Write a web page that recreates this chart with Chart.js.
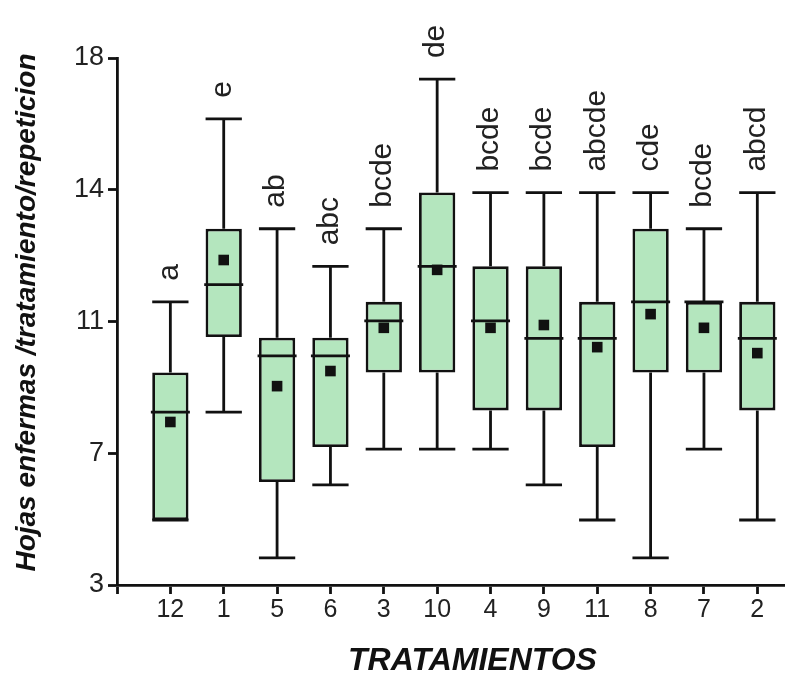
<!DOCTYPE html>
<html><head><meta charset="utf-8">
<script src="https://cdn.jsdelivr.net/npm/chart.js@4/dist/chart.umd.min.js"></script>
<style>html,body{margin:0;padding:0;background:#fff;overflow:hidden}#wrap{width:788px;height:674px}</style>
</head><body><div id="wrap"><canvas id="c" width="788" height="674"></canvas></div>
<script>
const categories = ['12','1','5','6','3','10','4','9','11','8','7','2'];
const letters    = ['a','e','ab','abc','bcde','de','bcde','bcde','abcde','cde','bcde','abcd'];
const whiskerLow  = [4.85, 7.92, 3.77, 5.85, 6.87, 6.87, 6.87, 5.85, 4.85, 3.77, 6.87, 4.85];
const q1          = [4.85, 10.06, 5.93, 6.93, 9.05, 9.05, 7.97, 7.97, 6.93, 9.05, 9.05, 7.97];
const median      = [7.92, 11.55, 9.52, 9.52, 10.52, 12.07, 10.52, 10.02, 10.02, 11.06, 11.06, 10.02];
const q3          = [9.05, 13.14, 10.04, 10.04, 11.06, 14.17, 12.07, 12.07, 11.06, 13.14, 11.06, 11.06];
const whiskerHigh = [11.06, 16.27, 13.14, 12.07, 13.14, 17.40, 14.17, 14.17, 14.17, 14.17, 13.14, 14.17];
const mean        = [7.64, 12.25, 8.66, 9.09, 10.32, 11.97, 10.32, 10.40, 9.77, 10.71, 10.32, 9.60];
const yTickValues = [3, 6.75, 10.5, 14.25, 18];
const yTickLabels = ['3','7','11','14','18'];
const xTitle = 'TRATAMIENTOS';
const yTitle = 'Hojas enfermas /tratamiento/repeticion';

const FONT = '"Liberation Sans", Arial, Helvetica, sans-serif';
const INK = '#111';
const LW = 2.8;

const extras = {
  id: 'boxExtras',
  beforeDatasetsDraw(chart) {
    const {ctx, scales: {x, y}} = chart;
    const bars = chart.getDatasetMeta(2).data;
    ctx.save();
    ctx.strokeStyle = INK; ctx.lineWidth = LW; ctx.lineCap = 'butt';
    categories.forEach((c, i) => {
      const cx = x.getPixelForValue(i);
      const w = bars[i].width;
      const yHi = y.getPixelForValue(whiskerHigh[i]), yQ3 = y.getPixelForValue(q3[i]);
      const yLo = y.getPixelForValue(whiskerLow[i]), yQ1 = y.getPixelForValue(q1[i]);
      ctx.beginPath();
      ctx.moveTo(cx, yHi); ctx.lineTo(cx, yQ3);
      ctx.moveTo(cx, yQ1); ctx.lineTo(cx, yLo);
      ctx.moveTo(cx - w / 2, yHi); ctx.lineTo(cx + w / 2, yHi);
      ctx.moveTo(cx - w / 2, yLo); ctx.lineTo(cx + w / 2, yLo);
      ctx.stroke();
    });
    ctx.restore();
  },
  afterDraw(chart) {
    const {ctx, scales: {x, y}, chartArea} = chart;
    ctx.save();
    ctx.fillStyle = '#222';
    ctx.font = '30px ' + FONT;
    ctx.textAlign = 'left'; ctx.textBaseline = 'middle';
    categories.forEach((c, i) => {
      const cx = x.getPixelForValue(i);
      const yHi = y.getPixelForValue(whiskerHigh[i]);
      ctx.save();
      ctx.translate(cx - 1, yHi - 21);
      ctx.rotate(-Math.PI / 2);
      ctx.fillText(letters[i], 0, 0);
      ctx.restore();
    });
    // axis titles
    ctx.fillStyle = INK;
    ctx.font = 'italic bold 32px ' + FONT;
    ctx.textAlign = 'center'; ctx.textBaseline = 'middle';
    ctx.fillText(xTitle, (chartArea.left + chartArea.right) / 2 + 22, chartArea.bottom + 76);
    ctx.font = 'italic bold 28px ' + FONT;
    ctx.save();
    ctx.translate(27, (chartArea.top + chartArea.bottom) / 2 - 9);
    ctx.rotate(-Math.PI / 2);
    ctx.fillText(yTitle, 0, 0);
    ctx.restore();
    ctx.restore();
  }
};

new Chart(document.getElementById('c'), {
  type: 'bar',
  data: {
    datasets: [
      {
        type: 'scatter', label: 'media', order: 1,
        data: categories.map((c, i) => ({x: i, y: mean[i]})),
        pointStyle: 'rect', pointRadius: 7.5, pointHoverRadius: 7.5,
        backgroundColor: INK, borderColor: INK, borderWidth: 0
      },
      {
        type: 'scatter', label: 'mediana', order: 2,
        data: categories.map((c, i) => ({x: i, y: median[i]})),
        pointStyle: 'line', pointRadius: 19.5, pointHoverRadius: 19.5,
        borderColor: INK, borderWidth: LW
      },
      {
        type: 'bar', label: 'caja', order: 3,
        data: categories.map((c, i) => ({x: i, y: [q1[i], q3[i]]})),
        backgroundColor: '#b4e6be', borderColor: INK, borderWidth: LW,
        borderSkipped: false, barPercentage: 0.68, categoryPercentage: 1
      }
    ]
  },
  options: {
    responsive: false, animation: false,
    layout: {autoPadding: false, padding: {left: 0, right: 4, top: 58, bottom: 0}},
    plugins: {legend: {display: false}, tooltip: {enabled: false}},
    scales: {
      x: {
        type: 'linear', min: -1, max: 11.5, offset: false,
        afterBuildTicks: s => { s.ticks = [-1].concat(categories.map((c, i) => i)).map(v => ({value: v})); },
        afterFit: s => { s.height = 89; s.paddingLeft = 0; s.paddingRight = 0; },
        ticks: {
          autoSkip: false, maxRotation: 0, padding: 1, color: '#222',
          font: {size: 25, family: FONT},
          callback: v => (v >= 0 ? categories[v] : '')
        },
        grid: {display: true, offset: false, drawOnChartArea: false, drawTicks: true, tickLength: 9, tickWidth: LW, tickColor: INK},
        border: {display: true, color: INK, width: LW}
      },
      y: {
        type: 'linear', min: 3, max: 18,
        afterBuildTicks: s => { s.ticks = yTickValues.map(v => ({value: v})); },
        afterFit: s => { s.width = 117; },
        ticks: {
          padding: 4, color: '#222', font: {size: 27, family: FONT},
          callback: (v, idx) => yTickLabels[idx]
        },
        grid: {display: true, drawOnChartArea: false, drawTicks: true, tickLength: 9, tickWidth: LW, tickColor: INK},
        border: {display: true, color: INK, width: LW}
      }
    }
  },
  plugins: [extras]
});
</script>
</body></html>
